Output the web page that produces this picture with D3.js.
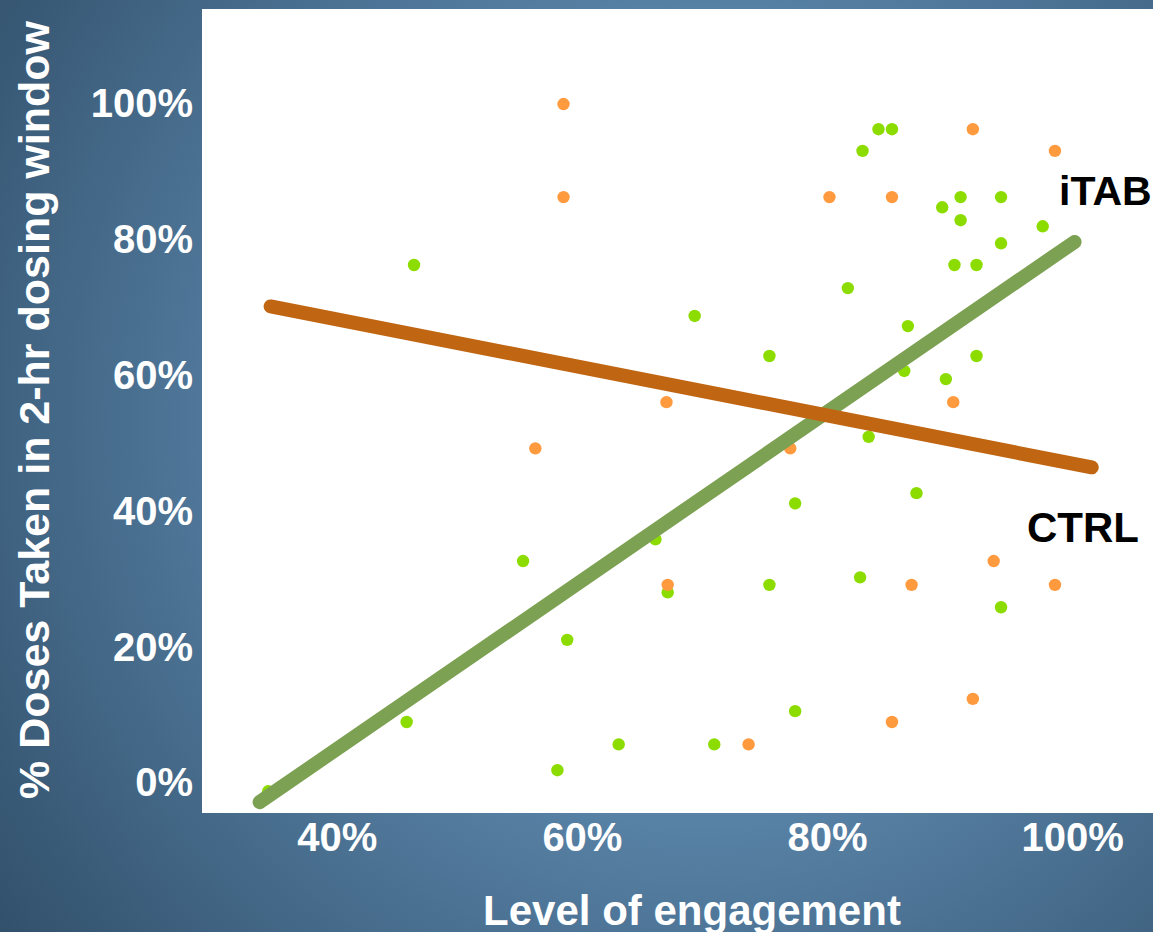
<!DOCTYPE html>
<html>
<head>
<meta charset="utf-8">
<script src="https://cdn.jsdelivr.net/npm/d3@7"></script>
<style>
  html, body { margin: 0; padding: 0; }
  body { width: 1153px; height: 932px; overflow: hidden; }
  svg { display: block; }
  text { font-family: "Liberation Sans", Arial, sans-serif; font-weight: bold; }
</style>
</head>
<body>
<svg id="chart" width="1153" height="932"></svg>
<script>
// Engagement (%) and share of doses taken within the 2-hr window (%)
const itabX = [34.4, 45.7, 46.3, 55.2, 58.0, 58.8, 63.0, 66.0, 67.0, 69.2, 70.8, 75.3, 75.3, 77.4, 77.4,
               81.7, 82.7, 82.9, 83.4, 84.2, 85.3, 86.3, 86.6, 87.3, 89.4, 89.7, 90.4, 90.9, 90.9,
               92.2, 92.2, 94.2, 94.2, 94.2, 97.6];
const itabY = [-1.2, 9.0, 76.3, 32.7, 1.9, 21.1, 5.7, 35.9, 28.1, 68.8, 5.7, 62.9, 29.2, 41.2, 10.6,
               72.9, 30.3, 93.1, 51.0, 96.3, 96.3, 60.7, 67.3, 42.7, 84.8, 59.5, 76.3, 86.3, 82.9,
               76.3, 62.9, 86.3, 79.5, 25.9, 82.0];

const ctrlX = [56.2, 58.5, 58.5, 66.9, 67.0, 73.6, 77.0, 80.2, 85.3, 85.3, 86.9, 90.3, 91.9, 91.9,
               93.6, 98.6, 98.6];
const ctrlY = [49.3, 100.0, 86.3, 56.1, 29.2, 5.7, 49.3, 86.3, 86.3, 9.0, 29.2, 56.1, 96.3, 12.4,
               32.7, 93.1, 29.2];

// Trend lines (start and end points)
const itabTrendX = [33.7, 100.2];
const itabTrendY = [-2.8, 79.7];
const ctrlTrendX = [34.6, 101.6];
const ctrlTrendY = [70.2, 46.5];

const xTicks = [40, 60, 80, 100];
const yTicks = [0, 20, 40, 60, 80, 100];
const xTitle = "Level of engagement";
const yTitle = "% Doses Taken in 2-hr dosing window";

const W = 1153, H = 932;
const plot = { left: 202, top: 9, right: 1153, bottom: 813 };

const svg = d3.select("#chart");
const defs = svg.append("defs");

// Blue slide backdrop
const bg = defs.append("radialGradient")
  .attr("id", "bgGrad")
  .attr("gradientUnits", "userSpaceOnUse")
  .attr("cx", 700).attr("cy", 420).attr("r", 900);
bg.append("stop").attr("offset", "0").attr("stop-color", "#5d8bb0");
bg.append("stop").attr("offset", "0.45").attr("stop-color", "#5781a5");
bg.append("stop").attr("offset", "1").attr("stop-color", "#2f4d67");

svg.append("rect").attr("width", W).attr("height", H).attr("fill", "url(#bgGrad)");

// Plot area
svg.append("rect")
  .attr("x", plot.left).attr("y", plot.top)
  .attr("width", plot.right - plot.left).attr("height", plot.bottom - plot.top)
  .attr("fill", "#ffffff");

const x = d3.scaleLinear().domain([29.0, 106.6]).range([plot.left, plot.right]);
const y = d3.scaleLinear().domain([-4.4, 114]).range([plot.bottom, plot.top]);

const pct = d => d + "%";

// Y axis labels
const yAxis = svg.append("g")
  .attr("transform", `translate(${plot.left},0)`)
  .call(d3.axisLeft(y).tickValues(yTicks).tickFormat(pct).tickSize(0).tickPadding(9));
yAxis.select(".domain").remove();
yAxis.selectAll("text")
  .attr("fill", "#ffffff")
  .style("font-size", "40px")
  .style("font-family", "'Liberation Sans', Arial, sans-serif")
  .style("font-weight", "bold");

// X axis labels
const xAxis = svg.append("g")
  .attr("transform", `translate(0,${plot.bottom})`)
  .call(d3.axisBottom(x).tickValues(xTicks).tickFormat(pct).tickSize(0).tickPadding(10));
xAxis.select(".domain").remove();
xAxis.selectAll("text")
  .attr("fill", "#ffffff")
  .style("font-size", "40px")
  .style("font-family", "'Liberation Sans', Arial, sans-serif")
  .style("font-weight", "bold");

// Axis titles
svg.append("text")
  .attr("x", 692).attr("y", 925)
  .attr("text-anchor", "middle")
  .attr("fill", "#ffffff")
  .style("font-size", "42px")
  .text(xTitle);

svg.append("text")
  .attr("transform", "translate(49,410) rotate(-90)")
  .attr("text-anchor", "middle")
  .attr("fill", "#ffffff")
  .style("font-size", "43px")
  .text(yTitle);

// Scatter points
const itabPts = itabX.map((v, i) => ({ x: v, y: itabY[i] }));
const ctrlPts = ctrlX.map((v, i) => ({ x: v, y: ctrlY[i] }));

svg.append("g").selectAll("circle").data(itabPts).join("circle")
  .attr("cx", d => x(d.x)).attr("cy", d => y(d.y)).attr("r", 6.2)
  .attr("fill", "#8ddc00");

svg.append("g").selectAll("circle").data(ctrlPts).join("circle")
  .attr("cx", d => x(d.x)).attr("cy", d => y(d.y)).attr("r", 6.2)
  .attr("fill", "#ff9a3e");

// Trend lines
const line = d3.line().x(d => x(d.x)).y(d => y(d.y));
const itabTrend = itabTrendX.map((v, i) => ({ x: v, y: itabTrendY[i] }));
const ctrlTrend = ctrlTrendX.map((v, i) => ({ x: v, y: ctrlTrendY[i] }));

svg.append("path").datum(itabTrend)
  .attr("d", line).attr("fill", "none")
  .attr("stroke", "#7da152").attr("stroke-width", 14).attr("stroke-linecap", "round");

svg.append("path").datum(ctrlTrend)
  .attr("d", line).attr("fill", "none")
  .attr("stroke", "#c06511").attr("stroke-width", 14).attr("stroke-linecap", "round");

// Series labels
svg.append("text")
  .attr("x", 1059).attr("y", 205)
  .attr("fill", "#000000")
  .style("font-size", "41px")
  .text("iTAB");

svg.append("text")
  .attr("x", 1027).attr("y", 542)
  .attr("fill", "#000000")
  .style("font-size", "42px")
  .text("CTRL");
</script>
</body>
</html>
